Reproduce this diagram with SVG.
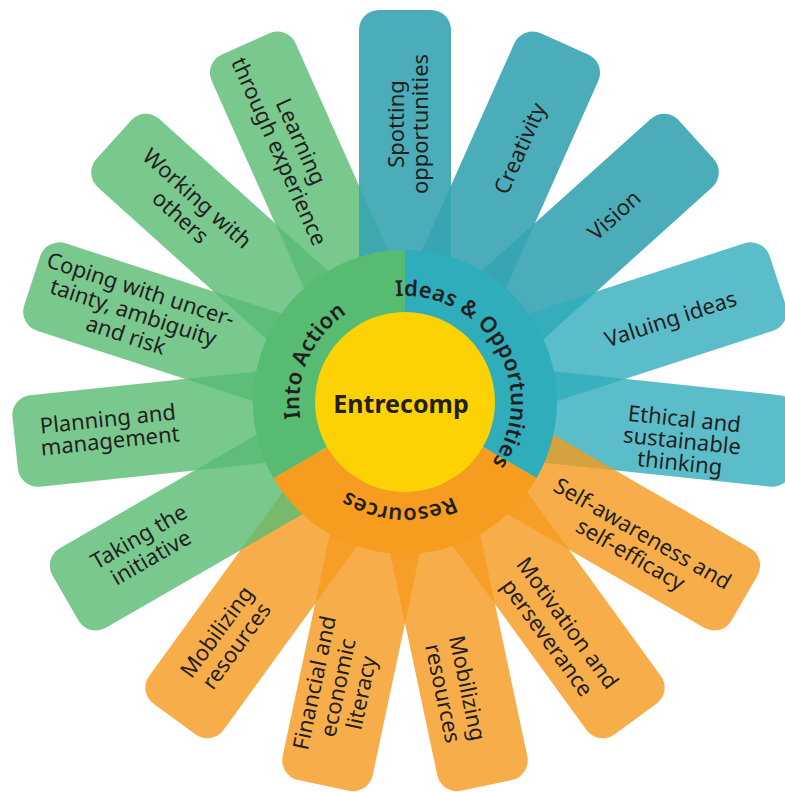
<svg xmlns="http://www.w3.org/2000/svg" xmlns:xlink="http://www.w3.org/1999/xlink" width="785" height="792" viewBox="0 0 785 792">
<style>
.g{fill:#58bb73;fill-opacity:.8}
.t1{fill:#36a4b1;fill-opacity:.9}
.t2{fill:#31adbb;fill-opacity:.8}
.o{fill:#f59a1d;fill-opacity:.8}
.lbl{font-family:"Noto Sans","Open Sans",sans-serif;font-size:22px;fill:#231f20;text-anchor:middle}
.ring{font-family:"Noto Sans","Open Sans",sans-serif;font-weight:600;font-size:22px;fill:#231f20;letter-spacing:.2px}
.ctr{font-family:"Noto Sans","Open Sans",sans-serif;font-weight:bold;font-size:25px;fill:#231f20;text-anchor:middle}
</style>
<defs>
<rect id="petal" x="-46" y="-392" width="92" height="292" rx="20"/>
<path id="arcIdeas" d="M360.2,305.9 A106,106 0 0 1 465.8,488.8"/>
<path id="arcRes" d="M510,416.8 A106,106 0 0 1 299.1,405.7"/>
<path id="arcAct" d="M353.6,494.7 A106,106 0 0 1 439.5,301.8"/>
</defs>
<rect width="785" height="792" fill="#ffffff"/>

<g id="learning"><use xlink:href="#petal" class="g" transform="translate(405,402) rotate(336)"/>
<text class="lbl" transform="translate(289,147) rotate(66)"><tspan x="0" y="-5.5">Learning</tspan><tspan x="0" y="18.5">through experience</tspan></text></g>

<g id="spotting"><use xlink:href="#petal" class="t1" transform="translate(405,402) rotate(0)"/>
<text class="lbl" transform="translate(409,124) rotate(-90)"><tspan x="0" y="-5.5">Spotting</tspan><tspan x="0" y="18.5">opportunities</tspan></text></g>

<g id="creativity"><use xlink:href="#petal" class="t1" transform="translate(405,402) rotate(24)"/>
<text class="lbl" transform="translate(521,149) rotate(-66)"><tspan x="0" y="6.5">Creativity</tspan></text></g>

<g id="vision"><use xlink:href="#petal" class="t1" transform="translate(405,402) rotate(48)"/>
<text class="lbl" transform="translate(615,216) rotate(-42)"><tspan x="0" y="6.5">Vision</tspan></text></g>

<g id="valuing"><use xlink:href="#petal" class="t2" transform="translate(405,402) rotate(72)"/>
<text class="lbl" transform="translate(671,320) rotate(-18)"><tspan x="0" y="6.5">Valuing ideas</tspan></text></g>

<g id="ethical"><use xlink:href="#petal" class="t2" transform="translate(405,402) rotate(96)"/>
<text class="lbl" transform="translate(682,442) rotate(6)"><tspan x="0" y="-15.5">Ethical and</tspan><tspan x="0" y="6.5">sustainable</tspan><tspan x="0" y="28.5">thinking</tspan></text></g>

<g id="selfawareness"><use xlink:href="#petal" class="o" transform="translate(405,402) rotate(120)"/>
<text class="lbl" transform="translate(636,545) rotate(30)"><tspan x="0" y="-5.5">Self-awareness and</tspan><tspan x="0" y="18.5">self-efficacy</tspan></text></g>

<g id="motivation"><use xlink:href="#petal" class="o" transform="translate(405,402) rotate(144)"/>
<text class="lbl" transform="translate(556.5,631) rotate(54)"><tspan x="0" y="-6">Motivation and</tspan><tspan x="0" y="19">perseverance</tspan></text></g>

<g id="mobilizing1"><use xlink:href="#petal" class="o" transform="translate(405,402) rotate(168)"/>
<text class="lbl" transform="translate(454,691) rotate(78)"><tspan x="0" y="-6">Mobilizing</tspan><tspan x="0" y="19">resources</tspan></text></g>

<g id="financial"><use xlink:href="#petal" class="o" transform="translate(405,402) rotate(192)"/>
<text class="lbl" transform="translate(339,688) rotate(-78)"><tspan x="0" y="-17.5">Financial and</tspan><tspan x="0" y="6.5">economic</tspan><tspan x="0" y="30.5">literacy</tspan></text></g>

<g id="mobilizing2"><use xlink:href="#petal" class="o" transform="translate(405,402) rotate(216)"/>
<text class="lbl" transform="translate(227.5,639.5) rotate(-54)"><tspan x="0" y="-5.5">Mobilizing</tspan><tspan x="0" y="18.5">resources</tspan></text></g>

<g id="taking"><use xlink:href="#petal" class="g" transform="translate(405,402) rotate(240)"/>
<text class="lbl" transform="translate(145.5,548) rotate(-30)"><tspan x="0" y="-5.5">Taking the</tspan><tspan x="0" y="18.5">initiative</tspan></text></g>

<g id="planning"><use xlink:href="#petal" class="g" transform="translate(405,402) rotate(264)"/>
<text class="lbl" transform="translate(109,431) rotate(-6)"><tspan x="0" y="-4.5">Planning and</tspan><tspan x="0" y="17.5">management</tspan></text></g>

<g id="coping"><use xlink:href="#petal" class="g" transform="translate(405,402) rotate(288)"/>
<text class="lbl" transform="translate(133,313.5) rotate(18)"><tspan x="0" y="-17.5">Coping with uncer-</tspan><tspan x="0" y="6.5">tainty, ambiguity</tspan><tspan x="0" y="30.5">and risk</tspan></text></g>

<g id="working"><use xlink:href="#petal" class="g" transform="translate(405,402) rotate(312)"/>
<text class="lbl" transform="translate(188,208.5) rotate(42)"><tspan x="0" y="-6">Working with</tspan><tspan x="0" y="19">others</tspan></text></g>

<g id="ring">
<path id="ringIdeas" d="M405,402 L405,250 A152,152 0 0 1 536.6,478 Z" fill="#2fadbb"/>
<path id="ringResources" d="M405,402 L536.6,478 A152,152 0 0 1 273.4,478 Z" fill="#f69c1e"/>
<path id="ringAction" d="M405,402 L273.4,478 A152,152 0 0 1 405,250 Z" fill="#57bb72"/>
<text class="ring"><textPath xlink:href="#arcIdeas" startOffset="50%" text-anchor="middle">Ideas &amp; Opportunities</textPath></text>
<text class="ring"><textPath xlink:href="#arcRes" startOffset="50%" text-anchor="middle">Resources</textPath></text>
<text class="ring"><textPath xlink:href="#arcAct" startOffset="50%" text-anchor="middle">Into Action</textPath></text>
</g>

<g id="center">
<circle cx="405" cy="402" r="90" fill="#fcd205"/>
<text class="ctr" x="401" y="413">Entrecomp</text>
</g>
</svg>
